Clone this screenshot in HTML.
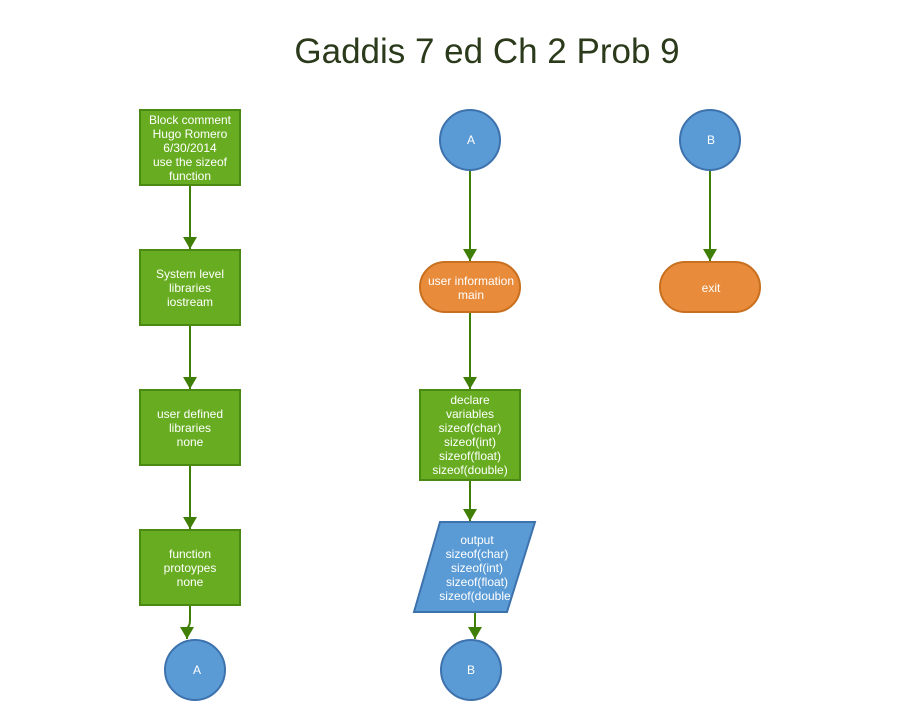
<!DOCTYPE html>
<html><head><style>body{margin:0;background:#fff}svg text{font-family:"Liberation Sans",Arial,sans-serif}</style></head><body>
<svg width="922" height="720" xmlns="http://www.w3.org/2000/svg">
<defs><marker id="a" markerWidth="14" markerHeight="14" refX="12" refY="7" orient="auto" markerUnits="userSpaceOnUse"><path d="M0,0 L12,7 L0,14 Z" fill="#3f7f05"/></marker></defs>
<text x="487" y="63" font-size="35" fill="#2b3a1a" text-anchor="middle">Gaddis 7 ed Ch 2 Prob 9</text>
<g stroke="#3f7f05" stroke-width="2" fill="none" marker-end="url(#a)">
<line x1="190" y1="185" x2="190" y2="249"/>
<line x1="190" y1="325" x2="190" y2="389"/>
<line x1="190" y1="465" x2="190" y2="529"/>
<path d="M190,605 V620 Q190,626 187,628 L187,639"/>
<line x1="470" y1="170" x2="470" y2="261"/>
<line x1="470" y1="312" x2="470" y2="389"/>
<line x1="470" y1="480" x2="470" y2="521"/>
<line x1="475" y1="612" x2="475" y2="639"/>
<line x1="710" y1="170" x2="710" y2="261"/>
</g>
<g fill="#68ad21" stroke="#4b8a12" stroke-width="2">
<rect x="140" y="110" width="100" height="75"/>
<rect x="140" y="250" width="100" height="75"/>
<rect x="140" y="390" width="100" height="75"/>
<rect x="140" y="530" width="100" height="75"/>
<rect x="420" y="390" width="100" height="90"/>
</g>
<g fill="#5b9bd5" stroke="#3d72ad" stroke-width="2">
<circle cx="195" cy="670" r="30"/>
<circle cx="470" cy="140" r="30"/>
<circle cx="471" cy="670" r="30"/>
<circle cx="710" cy="140" r="30"/>
<polygon points="440,522 535,522 507,612 414,612"/>
</g>
<g fill="#e88c3c" stroke="#c86f20" stroke-width="2">
<rect x="420" y="262" width="100" height="50" rx="25"/>
<rect x="660" y="262" width="100" height="50" rx="25"/>
</g>
<g fill="#fff" font-size="12" text-anchor="middle">
<text x="190" y="124">Block comment</text><text x="190" y="138">Hugo Romero</text><text x="190" y="152">6/30/2014</text><text x="190" y="166">use the sizeof</text><text x="190" y="180">function</text>
<text x="190" y="278">System level</text><text x="190" y="292">libraries</text><text x="190" y="306">iostream</text>
<text x="190" y="418">user defined</text><text x="190" y="432">libraries</text><text x="190" y="446">none</text>
<text x="190" y="558">function</text><text x="190" y="572">protoypes</text><text x="190" y="586">none</text>
<text x="197" y="674">A</text><text x="471" y="144">A</text><text x="471" y="674">B</text><text x="711" y="144">B</text>
<text x="471" y="285">user information</text><text x="471" y="299">main</text>
<text x="711" y="292">exit</text>
<text x="470" y="404">declare</text><text x="470" y="418">variables</text><text x="470" y="432">sizeof(char)</text><text x="470" y="446">sizeof(int)</text><text x="470" y="460">sizeof(float)</text><text x="470" y="474">sizeof(double)</text>
<text x="477" y="544">output</text><text x="477" y="558">sizeof(char)</text><text x="477" y="572">sizeof(int)</text><text x="477" y="586">sizeof(float)</text><text x="475" y="600">sizeof(double</text>
</g>
</svg>
</body></html>
